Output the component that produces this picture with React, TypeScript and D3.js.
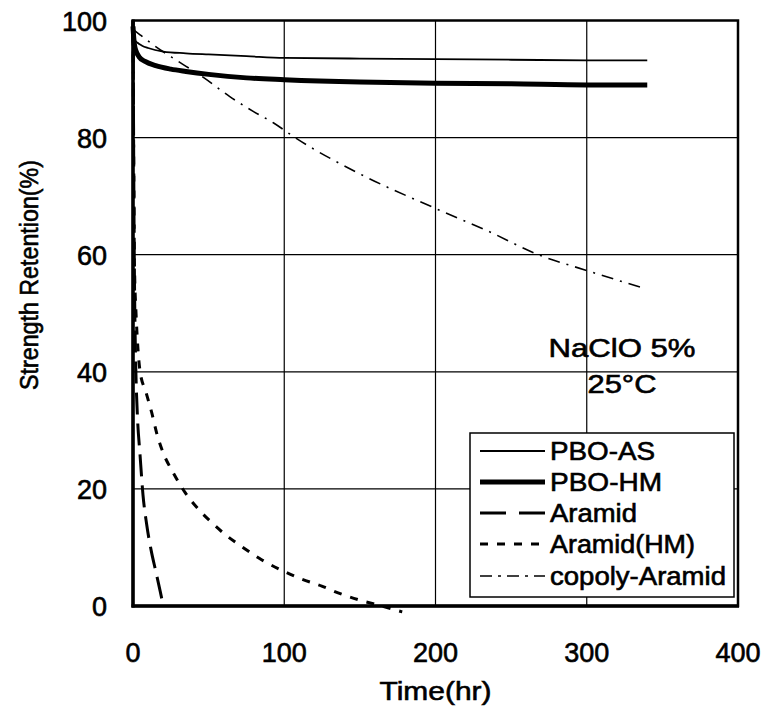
import React from "react";
import * as d3 from "d3";

// ---- data ----
const xTicks = [0, 100, 200, 300, 400];
const yTicks = [0, 20, 40, 60, 80, 100];

const pboAsT = [0, 1, 3, 6, 10, 20, 35, 50, 75, 100, 150, 200, 250, 300, 340];
const pboAsV = [98, 96.8, 96.2, 95.7, 95.3, 94.7, 94.4, 94.2, 93.9, 93.6, 93.5, 93.4, 93.3, 93.2, 93.2];

const pboHmT = [0, 0.5, 1, 2, 4, 8, 15, 25, 35, 50, 75, 100, 150, 200, 250, 300, 340];
const pboHmV = [99, 97, 95.8, 94.8, 93.8, 93, 92.3, 91.7, 91.3, 90.8, 90.2, 89.9, 89.5, 89.3, 89.2, 89.0, 89.0];

const aramidT = [0, 0.3, 0.7, 1, 1.5, 2, 3, 4.6, 6.6, 9, 12, 15, 18, 20];
const aramidV = [100, 85, 65, 55, 45, 39, 32, 26, 19, 14, 9.5, 6, 2.5, 0];

const aramidHmT = [0, 0.5, 1, 2, 3, 4.6, 8.6, 12.3, 15.9, 19.9, 26.5, 34.4, 42, 51, 61, 72.7, 85, 98.3, 110.4, 124.8, 137, 150, 160, 178];
const aramidHmV = [100, 75, 58, 50, 45, 40.2, 36.5, 33.1, 29.3, 26.2, 22.8, 19.4, 16.9, 14.5, 12.2, 10, 7.9, 6.1, 4.7, 3.4, 2.1, 1.0, 0.3, -1];

const copolyT = [0, 5, 12, 30, 47, 64, 80, 93, 106, 150, 200, 235, 268, 300, 336];
const copolyV = [98.5, 97.5, 96.1, 93, 90.2, 87, 84.4, 82.5, 80.2, 73.8, 67.9, 64.0, 60.0, 57.3, 54.4];

const seriesNames = ["PBO-AS", "PBO-HM", "Aramid", "Aramid(HM)", "copoly-Aramid"];
const seriesT = [pboAsT, pboHmT, aramidT, aramidHmT, copolyT];
const seriesV = [pboAsV, pboHmV, aramidV, aramidHmV, copolyV];

// ---- styles ----
const strokeW = [1.8, 5, 3, 3, 1.6];
const dashes = ["none", "none", "22,9", "8,9", "12,7,2,7"];
const legendDashes = ["none", "none", "26,13", "8,9", "12,6,3,6"];
const legendTextLen = [105, 112, 87, 145, 176];

const W = 772;
const H = 717;
const L = 133;
const R = 738;
const T = 20.5;
const B = 606;
const FONT = "'Liberation Sans', Arial, Helvetica, sans-serif";
const TXT = { fill: "#000", stroke: "#000", strokeWidth: 0.6 };

export default function App() {
  const x = d3.scaleLinear().domain([0, 400]).range([L, R]);
  const y = d3.scaleLinear().domain([0, 100]).range([B, T]);
  const line = d3
    .line<[number, number]>()
    .x((d) => x(d[0]))
    .y((d) => y(d[1]))
    .curve(d3.curveMonotoneX);

  const legendX0 = 480;
  const legendX1 = 545;
  const legendBase = [460, 491, 522, 553, 585];

  return (
    <svg
      width={W}
      height={H}
      style={{ position: "absolute", left: 0, top: 0, background: "#fff" }}
      fontFamily={FONT}
    >
      {/* grid */}
      {xTicks.slice(1, -1).map((t) => (
        <line key={"gx" + t} x1={x(t)} x2={x(t)} y1={T} y2={B} stroke="#000" strokeWidth={1.2} />
      ))}
      {yTicks.slice(1, -1).map((t) => (
        <line key={"gy" + t} x1={L} x2={R} y1={y(t)} y2={y(t)} stroke="#000" strokeWidth={1.2} />
      ))}

      {/* frame */}
      <rect x={L} y={T} width={R - L} height={B - T} fill="none" stroke="#000" strokeWidth={2.5} />
      <line x1={L} x2={L} y1={T - 1} y2={B + 1.5} stroke="#000" strokeWidth={3.5} />
      <line x1={L - 1.5} x2={R + 1} y1={B} y2={B} stroke="#000" strokeWidth={3.5} />

      {/* series */}
      {seriesNames.map((n, i) => (
        <path
          key={n}
          d={line(seriesT[i].map((t, k) => [t, seriesV[i][k]] as [number, number])) || ""}
          fill="none"
          stroke="#000"
          strokeWidth={strokeW[i]}
          strokeDasharray={dashes[i]}
          strokeLinejoin="round"
        />
      ))}

      {/* tick labels */}
      {yTicks.map((t) => (
        <text key={"ty" + t} x={L - 26} y={y(t) + 10} fontSize={27} textAnchor="end" {...TXT}>
          {t}
        </text>
      ))}
      {xTicks.map((t) => (
        <text key={"tx" + t} x={x(t)} y={662} fontSize={27} textAnchor="middle" {...TXT}>
          {t}
        </text>
      ))}

      {/* axis titles */}
      <text x={(L + R) / 2} y={700} fontSize={26} textAnchor="middle" textLength={112} lengthAdjust="spacingAndGlyphs" {...TXT}>
        Time(hr)
      </text>
      <text
        transform={`translate(38,275) rotate(-90)`}
        fontSize={26}
        textAnchor="middle"
        textLength={230}
        lengthAdjust="spacingAndGlyphs"
        {...TXT}
      >
        Strength Retention(%)
      </text>

      {/* annotation */}
      <text x={622} y={357} fontSize={26} textAnchor="middle" textLength={147} lengthAdjust="spacingAndGlyphs" {...TXT}>
        NaClO 5%
      </text>
      <text x={622} y={393} fontSize={26} textAnchor="middle" textLength={69} lengthAdjust="spacingAndGlyphs" {...TXT}>
        25°C
      </text>

      {/* legend */}
      <rect x={470} y={433} width={264} height={164} fill="#fff" stroke="#000" strokeWidth={1.5} />
      {seriesNames.map((n, i) => (
        <g key={"lg" + n}>
          <line
            x1={legendX0}
            x2={legendX1}
            y1={legendBase[i] - 9}
            y2={legendBase[i] - 9}
            stroke="#000"
            strokeWidth={strokeW[i]}
            strokeDasharray={legendDashes[i]}
          />
          <text
            x={550}
            y={legendBase[i]}
            fontSize={25}
            textLength={legendTextLen[i]}
            lengthAdjust="spacingAndGlyphs"
            {...TXT}
          >
            {n}
          </text>
        </g>
      ))}
    </svg>
  );
}
